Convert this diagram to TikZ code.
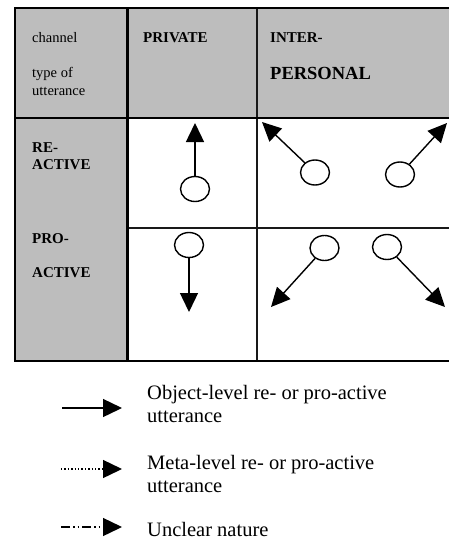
\documentclass[tikz,border=0pt]{standalone}
\usepackage{fontspec}
\setmainfont{Liberation Serif}
\usepackage{tikz}
\usetikzlibrary{shapes.geometric,arrows.meta,positioning,calc}

\begin{document}
\begin{tikzpicture}[
    x=1pt, y=-1pt,
    shade_cell/.style = {
        fill=black!26,
        draw=none
    },
    frame/.style = {
        draw=black,
        line width=2.4pt
    },
    thin_rule/.style = {
        draw=black!90,
        line width=1.3pt
    },
    head_label/.style = {
        anchor=west,
        inner sep=0pt,
        font=\fontsize{15}{18}\selectfont\bfseries
    },
    side_label/.style = {
        anchor=west,
        inner sep=0pt,
        font=\fontsize{14.5}{16}\selectfont
    },
    speaker/.style = {
        ellipse,
        draw=black,
        line width=1.4pt,
        minimum width=29pt,
        minimum height=25pt,
        inner sep=0pt
    },
    utter/.style = {
        -{Triangle[length=19pt,width=18pt]},
        line width=1.4pt,
        draw=black
    },
    legend_text/.style = {
        anchor=west,
        inner sep=0pt,
        align=left,
        font=\fontsize{20.5}{23}\selectfont
    }
]
    \clip (0,0) rectangle (449,541);

    % Table background
    \fill [white] (0,0) rectangle (449,541);
    \fill [shade_cell] (15,8) rectangle (460,118);
    \fill [shade_cell] (15,8) rectangle (127,361);

    % Table rules
    \draw [thin_rule] (257,8) -- (257,361);
    \draw [thin_rule] (127,228) -- (460,228);
    \draw [frame] (15,8) rectangle (460,361);
    \draw [frame] (15,118) -- (460,118);
    \draw [draw=black, line width=3pt] (127,8) -- (127,361);

    % Header labels
    \node [side_label] (channel) at (32,38) {channel};
    \node [side_label] (typeof) at (32,74) {type of};
    \node [side_label] (utterance) at (32,91) {utterance};
    \node [head_label] (private) at (143,38) {PRIVATE};
    \node [head_label] (inter) at (270,38) {INTER-};
    \node [head_label, font=\fontsize{18.5}{20}\selectfont\bfseries] (personal) at (270,73) {PERSONAL};

    % Row labels
    \node [head_label] (re) at (32,148) {RE-};
    \node [head_label] (reactive) at (32,165) {ACTIVE};
    \node [head_label] (pro) at (32,239) {PRO-};
    \node [head_label] (proactive) at (32,273) {ACTIVE};

    % Speakers
    \node [speaker] (re_priv) at (195,189) {};
    \node [speaker] (re_left) at (315,172.5) {};
    \node [speaker] (re_right) at (400,174.5) {};
    \node [speaker] (pro_priv) at (189,245) {};
    \node [speaker] (pro_left) at (324.5,248) {};
    \node [speaker] (pro_right) at (387,247) {};

    \coordinate (re_priv_tip) at (195,123);
    \coordinate (re_left_tip) at (262,122);
    \coordinate (re_right_tip) at (447,123);
    \coordinate (pro_priv_tip) at (189,312);
    \coordinate (pro_left_tip) at (271,307);
    \coordinate (pro_right_tip) at (445,307);

    % Utterances
    \draw [utter] (re_priv) -- (re_priv_tip);
    \draw [utter] (re_left) -- (re_left_tip);
    \draw [utter] (re_right) -- (re_right_tip);
    \draw [utter] (pro_priv) -- (pro_priv_tip);
    \draw [utter] (pro_left) -- (pro_left_tip);
    \draw [utter] (pro_right) -- (pro_right_tip);

    % Legend
    \coordinate (obj_from) at (62,408);
    \coordinate (obj_to) at (122,408);
    \coordinate (meta_from) at (61,469);
    \coordinate (meta_to) at (122,469);
    \coordinate (unclear_from) at (61,527);
    \coordinate (unclear_to) at (122,527);

    \draw [utter] (obj_from) -- (obj_to);
    \draw [utter, dotted] (meta_from) -- (meta_to);
    \draw [utter, dash pattern=on 9pt off 3pt on 1.5pt off 3pt on 1.5pt off 3pt] (unclear_from) -- (unclear_to);

    \node [legend_text] (obj_text) at (147,404) {Object-level re- or pro-active\\utterance};
    \node [legend_text] (meta_text) at (147,474) {Meta-level re- or pro-active\\utterance};
    \node [legend_text] (unclear_text) at (147,529) {Unclear nature};

\end{tikzpicture}
\end{document}
